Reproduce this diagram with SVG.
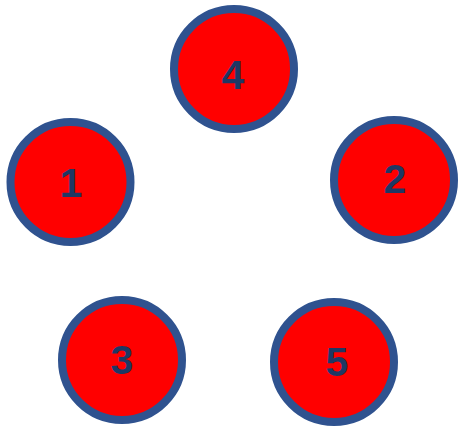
<svg xmlns="http://www.w3.org/2000/svg" width="462" height="427" viewBox="0 0 462 427">
<style>
.n circle{fill:#FF0000;stroke:#2F528F;stroke-width:8}
.n text{font-family:"Liberation Sans",Arial,sans-serif;font-weight:bold;font-size:41px;fill:#1F3864;text-anchor:middle}
</style>
<rect width="462" height="427" fill="#FFFFFF"/>
<g id="connectors"></g>
<g id="node4" class="n"><circle cx="234" cy="69" r="60"/><text x="233" y="89">4</text></g>
<g id="node1" class="n"><circle cx="70.5" cy="182" r="60"/><text x="71" y="197">1</text></g>
<g id="node2" class="n"><circle cx="394" cy="180" r="60"/><text x="395" y="193">2</text></g>
<g id="node3" class="n"><circle cx="122" cy="360" r="60"/><text x="122" y="374">3</text></g>
<g id="node5" class="n"><circle cx="334" cy="362" r="60"/><text x="337" y="376">5</text></g>
</svg>
